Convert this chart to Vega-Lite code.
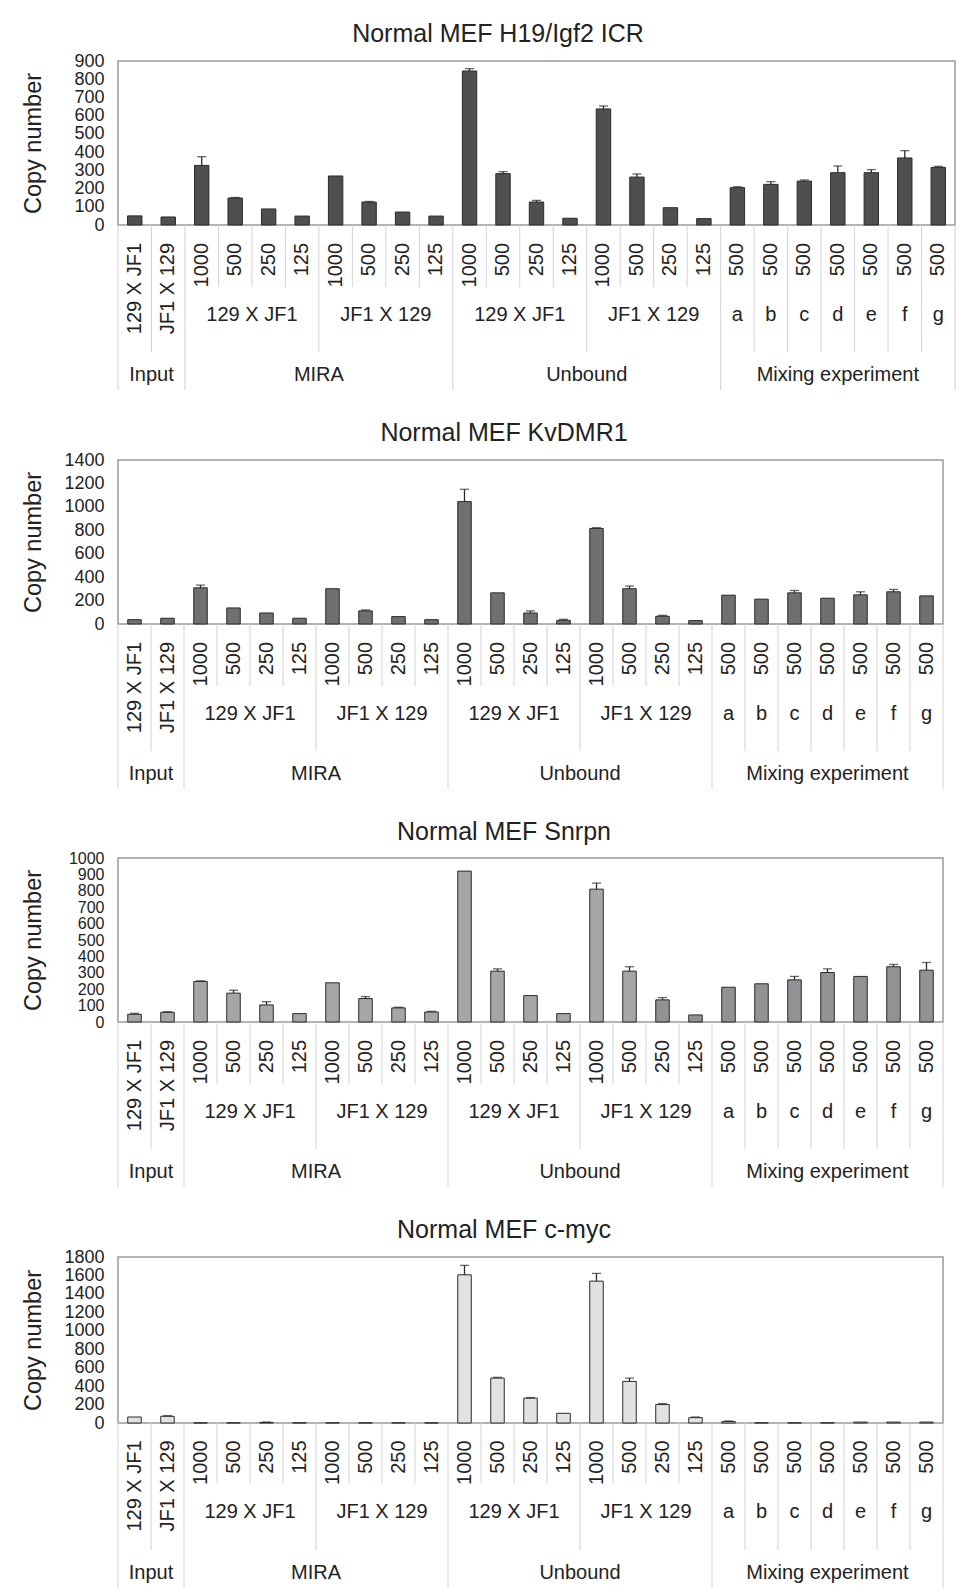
{
  "$schema": "https://vega.github.io/schema/vega-lite/v6.json",
  "background": "white",
  "padding": {"left": 20, "top": 21, "right": 0, "bottom": 0},
  "spacing": 29,
  "datasets": {
    "bars": [
      {"p": "H19", "n": 1, "v": 50}, {"p": "H19", "n": 2, "v": 44},
      {"p": "H19", "n": 3, "v": 327, "hi": 375}, {"p": "H19", "n": 4, "v": 148, "hi": 151},
      {"p": "H19", "n": 5, "v": 88}, {"p": "H19", "n": 6, "v": 49},
      {"p": "H19", "n": 7, "v": 269}, {"p": "H19", "n": 8, "v": 126, "hi": 129},
      {"p": "H19", "n": 9, "v": 71}, {"p": "H19", "n": 10, "v": 49},
      {"p": "H19", "n": 11, "v": 845, "hi": 858}, {"p": "H19", "n": 12, "v": 282, "hi": 293},
      {"p": "H19", "n": 13, "v": 126, "hi": 135}, {"p": "H19", "n": 14, "v": 37},
      {"p": "H19", "n": 15, "v": 637, "hi": 653}, {"p": "H19", "n": 16, "v": 263, "hi": 280},
      {"p": "H19", "n": 17, "v": 95}, {"p": "H19", "n": 18, "v": 35},
      {"p": "H19", "n": 19, "v": 205, "hi": 210}, {"p": "H19", "n": 20, "v": 223, "hi": 238},
      {"p": "H19", "n": 21, "v": 241, "hi": 247}, {"p": "H19", "n": 22, "v": 287, "hi": 324},
      {"p": "H19", "n": 23, "v": 287, "hi": 304}, {"p": "H19", "n": 24, "v": 368, "hi": 408},
      {"p": "H19", "n": 25, "v": 316, "hi": 322},

      {"p": "Kv", "n": 1, "v": 37}, {"p": "Kv", "n": 2, "v": 49},
      {"p": "Kv", "n": 3, "v": 309, "hi": 332}, {"p": "Kv", "n": 4, "v": 137},
      {"p": "Kv", "n": 5, "v": 94}, {"p": "Kv", "n": 6, "v": 49},
      {"p": "Kv", "n": 7, "v": 301}, {"p": "Kv", "n": 8, "v": 112, "hi": 120},
      {"p": "Kv", "n": 9, "v": 63}, {"p": "Kv", "n": 10, "v": 37},
      {"p": "Kv", "n": 11, "v": 1045, "hi": 1150}, {"p": "Kv", "n": 12, "v": 266},
      {"p": "Kv", "n": 13, "v": 94, "hi": 112}, {"p": "Kv", "n": 14, "v": 31, "hi": 40},
      {"p": "Kv", "n": 15, "v": 816, "hi": 822}, {"p": "Kv", "n": 16, "v": 301, "hi": 324},
      {"p": "Kv", "n": 17, "v": 66, "hi": 74}, {"p": "Kv", "n": 18, "v": 29},
      {"p": "Kv", "n": 19, "v": 246}, {"p": "Kv", "n": 20, "v": 212},
      {"p": "Kv", "n": 21, "v": 266, "hi": 286}, {"p": "Kv", "n": 22, "v": 220},
      {"p": "Kv", "n": 23, "v": 249, "hi": 275}, {"p": "Kv", "n": 24, "v": 275, "hi": 295},
      {"p": "Kv", "n": 25, "v": 240},

      {"p": "Sn", "n": 1, "v": 47, "hi": 53}, {"p": "Sn", "n": 2, "v": 59, "hi": 63},
      {"p": "Sn", "n": 3, "v": 247, "hi": 251}, {"p": "Sn", "n": 4, "v": 176, "hi": 194},
      {"p": "Sn", "n": 5, "v": 104, "hi": 124}, {"p": "Sn", "n": 6, "v": 51},
      {"p": "Sn", "n": 7, "v": 239}, {"p": "Sn", "n": 8, "v": 143, "hi": 155},
      {"p": "Sn", "n": 9, "v": 86, "hi": 90}, {"p": "Sn", "n": 10, "v": 61, "hi": 65},
      {"p": "Sn", "n": 11, "v": 920}, {"p": "Sn", "n": 12, "v": 310, "hi": 324},
      {"p": "Sn", "n": 13, "v": 161}, {"p": "Sn", "n": 14, "v": 51},
      {"p": "Sn", "n": 15, "v": 810, "hi": 847}, {"p": "Sn", "n": 16, "v": 310, "hi": 337},
      {"p": "Sn", "n": 17, "v": 135, "hi": 149}, {"p": "Sn", "n": 18, "v": 43},
      {"p": "Sn", "n": 19, "v": 212}, {"p": "Sn", "n": 20, "v": 233},
      {"p": "Sn", "n": 21, "v": 257, "hi": 278}, {"p": "Sn", "n": 22, "v": 302, "hi": 324},
      {"p": "Sn", "n": 23, "v": 278}, {"p": "Sn", "n": 24, "v": 337, "hi": 351},
      {"p": "Sn", "n": 25, "v": 316, "hi": 363},

      {"p": "My", "n": 1, "v": 65}, {"p": "My", "n": 2, "v": 73, "hi": 80},
      {"p": "My", "n": 3, "v": 2}, {"p": "My", "n": 4, "v": 2},
      {"p": "My", "n": 5, "v": 6, "hi": 10}, {"p": "My", "n": 6, "v": 2},
      {"p": "My", "n": 7, "v": 2}, {"p": "My", "n": 8, "v": 2},
      {"p": "My", "n": 9, "v": 2}, {"p": "My", "n": 10, "v": 2},
      {"p": "My", "n": 11, "v": 1607, "hi": 1709}, {"p": "My", "n": 12, "v": 487, "hi": 495},
      {"p": "My", "n": 13, "v": 269, "hi": 276}, {"p": "My", "n": 14, "v": 105},
      {"p": "My", "n": 15, "v": 1538, "hi": 1622}, {"p": "My", "n": 16, "v": 451, "hi": 487},
      {"p": "My", "n": 17, "v": 200, "hi": 211}, {"p": "My", "n": 18, "v": 58, "hi": 65},
      {"p": "My", "n": 19, "v": 15, "hi": 22}, {"p": "My", "n": 20, "v": 2},
      {"p": "My", "n": 21, "v": 2}, {"p": "My", "n": 22, "v": 2},
      {"p": "My", "n": 23, "v": 10}, {"p": "My", "n": 24, "v": 10},
      {"p": "My", "n": 25, "v": 10}
    ],
    "cats": [
      {"n": 1, "l1": "129 X JF1", "sep": 3}, {"n": 2, "l1": "JF1 X 129", "sep": 2},
      {"n": 3, "l1": "1000", "sep": 3}, {"n": 4, "l1": "500", "sep": 1},
      {"n": 5, "l1": "250", "sep": 1}, {"n": 6, "l1": "125", "sep": 1},
      {"n": 7, "l1": "1000", "sep": 2}, {"n": 8, "l1": "500", "sep": 1},
      {"n": 9, "l1": "250", "sep": 1}, {"n": 10, "l1": "125", "sep": 1},
      {"n": 11, "l1": "1000", "sep": 3}, {"n": 12, "l1": "500", "sep": 1},
      {"n": 13, "l1": "250", "sep": 1}, {"n": 14, "l1": "125", "sep": 1},
      {"n": 15, "l1": "1000", "sep": 2}, {"n": 16, "l1": "500", "sep": 1},
      {"n": 17, "l1": "250", "sep": 1}, {"n": 18, "l1": "125", "sep": 1},
      {"n": 19, "l1": "500", "sep": 3}, {"n": 20, "l1": "500", "sep": 2},
      {"n": 21, "l1": "500", "sep": 2}, {"n": 22, "l1": "500", "sep": 2},
      {"n": 23, "l1": "500", "sep": 2}, {"n": 24, "l1": "500", "sep": 2},
      {"n": 25, "l1": "500", "sep": 2, "rsep": 3}
    ],
    "groups": [
      {"t": "129 X JF1", "tier": 2, "span": 4, "n": 5},
      {"t": "JF1 X 129", "tier": 2, "span": 4, "n": 9},
      {"t": "129 X JF1", "tier": 2, "span": 4, "n": 13},
      {"t": "JF1 X 129", "tier": 2, "span": 4, "n": 17},
      {"t": "a", "tier": 2, "span": 1, "n": 19},
      {"t": "b", "tier": 2, "span": 1, "n": 20},
      {"t": "c", "tier": 2, "span": 1, "n": 21},
      {"t": "d", "tier": 2, "span": 1, "n": 22},
      {"t": "e", "tier": 2, "span": 1, "n": 23},
      {"t": "f", "tier": 2, "span": 1, "n": 24},
      {"t": "g", "tier": 2, "span": 1, "n": 25},
      {"t": "Input", "tier": 3, "span": 2, "n": 2},
      {"t": "MIRA", "tier": 3, "span": 8, "n": 7},
      {"t": "Unbound", "tier": 3, "span": 8, "n": 15},
      {"t": "Mixing experiment", "tier": 3, "span": 7, "n": 22}
    ]
  },
  "vconcat": [
    {
      "spacing": 0, "bounds": "flush",
      "vconcat": [
        {
          "width": 837, "height": 164,
          "title": {"text": "Normal MEF H19/Igf2 ICR", "dx": 10},
          "data": {"name": "bars"},
          "transform": [{"filter": "datum.p == 'H19'"}],
          "layer": [
            {"mark": {"type": "bar", "width": {"band": 0.43}, "fill": "#4f4f51", "stroke": "#2a2a2a", "strokeWidth": 1},
             "encoding": {
               "x": {"field": "n", "type": "ordinal", "axis": null, "scale": {"paddingInner": 0, "paddingOuter": 0}},
               "y": {"field": "v", "type": "quantitative", "title": "Copy number", "scale": {"domain": [0, 900], "nice": false}, "axis": {"values": [0, 100, 200, 300, 400, 500, 600, 700, 800, 900], "format": "d"}}}},
            {"transform": [{"filter": "datum.hi != null"}], "mark": {"type": "rule", "stroke": "#2a2a2a", "strokeWidth": 1.3},
             "encoding": {"x": {"field": "n", "type": "ordinal"}, "y": {"field": "v", "type": "quantitative", "title": "Copy number", "axis": {"values": [0, 100, 200, 300, 400, 500, 600, 700, 800, 900], "format": "d"}}, "y2": {"field": "hi"}}},
            {"transform": [{"filter": "datum.hi != null"}], "mark": {"type": "tick", "color": "#2a2a2a", "size": 9, "thickness": 1.3},
             "encoding": {"x": {"field": "n", "type": "ordinal"}, "y": {"field": "hi", "type": "quantitative", "title": "Copy number", "axis": {"values": [0, 100, 200, 300, 400, 500, 600, 700, 800, 900], "format": "d"}}}}
          ]
        },
        {
          "width": 837, "height": 165, "view": {"stroke": null},
          "layer": [
            {"data": {"name": "cats"}, "mark": {"type": "rule", "stroke": "#d2d2d2", "strokeWidth": 1},
             "encoding": {"x": {"field": "n", "type": "ordinal", "bandPosition": 0, "axis": null, "scale": {"paddingInner": 0, "paddingOuter": 0}},
               "y": {"field": "sep", "type": "quantitative", "axis": null, "scale": {"domain": [0, 1, 2, 3], "range": [0, 62, 127, 165], "nice": false, "zero": false}},
               "y2": {"datum": 0}}},
            {"data": {"name": "cats"}, "transform": [{"filter": "datum.rsep != null"}], "mark": {"type": "rule", "stroke": "#d2d2d2", "strokeWidth": 1},
             "encoding": {"x": {"field": "n", "type": "ordinal", "bandPosition": 1}, "y": {"field": "rsep", "type": "quantitative"}, "y2": {"datum": 0}}},
            {"data": {"name": "cats"}, "mark": {"type": "text", "angle": 270, "align": "right", "baseline": "middle", "fontSize": 20, "color": "#222222"},
             "encoding": {"x": {"field": "n", "type": "ordinal"}, "y": {"datum": 0.29, "type": "quantitative"}, "text": {"field": "l1"}}},
            {"data": {"name": "groups"}, "transform": [{"filter": "datum.tier == 2 && datum.span % 2 == 0"}], "mark": {"type": "text", "baseline": "middle", "fontSize": 20, "color": "#222222"},
             "encoding": {"x": {"field": "n", "type": "ordinal", "bandPosition": 0}, "y": {"datum": 1.43, "type": "quantitative"}, "text": {"field": "t"}}},
            {"data": {"name": "groups"}, "transform": [{"filter": "datum.tier == 2 && datum.span % 2 == 1"}], "mark": {"type": "text", "baseline": "middle", "fontSize": 20, "color": "#222222"},
             "encoding": {"x": {"field": "n", "type": "ordinal"}, "y": {"datum": 1.43, "type": "quantitative"}, "text": {"field": "t"}}},
            {"data": {"name": "groups"}, "transform": [{"filter": "datum.tier == 3 && datum.span % 2 == 0"}], "mark": {"type": "text", "baseline": "middle", "fontSize": 20, "color": "#222222"},
             "encoding": {"x": {"field": "n", "type": "ordinal", "bandPosition": 0}, "y": {"datum": 2.6, "type": "quantitative"}, "text": {"field": "t"}}},
            {"data": {"name": "groups"}, "transform": [{"filter": "datum.tier == 3 && datum.span % 2 == 1"}], "mark": {"type": "text", "baseline": "middle", "fontSize": 20, "color": "#222222"},
             "encoding": {"x": {"field": "n", "type": "ordinal"}, "y": {"datum": 2.6, "type": "quantitative"}, "text": {"field": "t"}}}
          ]
        }
      ]
    },
    {
      "spacing": 0, "bounds": "flush",
      "vconcat": [
        {
          "width": 825, "height": 164,
          "title": {"text": "Normal MEF KvDMR1", "dx": 22},
          "data": {"name": "bars"},
          "transform": [{"filter": "datum.p == 'Kv'"}],
          "layer": [
            {"mark": {"type": "bar", "width": {"band": 0.41}, "fill": "#707073", "stroke": "#2a2a2a", "strokeWidth": 1},
             "encoding": {
               "x": {"field": "n", "type": "ordinal", "axis": null, "scale": {"paddingInner": 0, "paddingOuter": 0}},
               "y": {"field": "v", "type": "quantitative", "title": "Copy number", "scale": {"domain": [0, 1400], "nice": false}, "axis": {"values": [0, 200, 400, 600, 800, 1000, 1200, 1400], "format": "d"}}}},
            {"transform": [{"filter": "datum.hi != null"}], "mark": {"type": "rule", "stroke": "#2a2a2a", "strokeWidth": 1.3},
             "encoding": {"x": {"field": "n", "type": "ordinal"}, "y": {"field": "v", "type": "quantitative", "title": "Copy number", "axis": {"values": [0, 200, 400, 600, 800, 1000, 1200, 1400], "format": "d"}}, "y2": {"field": "hi"}}},
            {"transform": [{"filter": "datum.hi != null"}], "mark": {"type": "tick", "color": "#2a2a2a", "size": 9, "thickness": 1.3},
             "encoding": {"x": {"field": "n", "type": "ordinal"}, "y": {"field": "hi", "type": "quantitative", "title": "Copy number", "axis": {"values": [0, 200, 400, 600, 800, 1000, 1200, 1400], "format": "d"}}}}
          ]
        },
        {
          "width": 825, "height": 165, "view": {"stroke": null},
          "layer": [
            {"data": {"name": "cats"}, "mark": {"type": "rule", "stroke": "#d2d2d2", "strokeWidth": 1},
             "encoding": {"x": {"field": "n", "type": "ordinal", "bandPosition": 0, "axis": null, "scale": {"paddingInner": 0, "paddingOuter": 0}},
               "y": {"field": "sep", "type": "quantitative", "axis": null, "scale": {"domain": [0, 1, 2, 3], "range": [0, 62, 127, 165], "nice": false, "zero": false}},
               "y2": {"datum": 0}}},
            {"data": {"name": "cats"}, "transform": [{"filter": "datum.rsep != null"}], "mark": {"type": "rule", "stroke": "#d2d2d2", "strokeWidth": 1},
             "encoding": {"x": {"field": "n", "type": "ordinal", "bandPosition": 1}, "y": {"field": "rsep", "type": "quantitative"}, "y2": {"datum": 0}}},
            {"data": {"name": "cats"}, "mark": {"type": "text", "angle": 270, "align": "right", "baseline": "middle", "fontSize": 20, "color": "#222222"},
             "encoding": {"x": {"field": "n", "type": "ordinal"}, "y": {"datum": 0.29, "type": "quantitative"}, "text": {"field": "l1"}}},
            {"data": {"name": "groups"}, "transform": [{"filter": "datum.tier == 2 && datum.span % 2 == 0"}], "mark": {"type": "text", "baseline": "middle", "fontSize": 20, "color": "#222222"},
             "encoding": {"x": {"field": "n", "type": "ordinal", "bandPosition": 0}, "y": {"datum": 1.43, "type": "quantitative"}, "text": {"field": "t"}}},
            {"data": {"name": "groups"}, "transform": [{"filter": "datum.tier == 2 && datum.span % 2 == 1"}], "mark": {"type": "text", "baseline": "middle", "fontSize": 20, "color": "#222222"},
             "encoding": {"x": {"field": "n", "type": "ordinal"}, "y": {"datum": 1.43, "type": "quantitative"}, "text": {"field": "t"}}},
            {"data": {"name": "groups"}, "transform": [{"filter": "datum.tier == 3 && datum.span % 2 == 0"}], "mark": {"type": "text", "baseline": "middle", "fontSize": 20, "color": "#222222"},
             "encoding": {"x": {"field": "n", "type": "ordinal", "bandPosition": 0}, "y": {"datum": 2.6, "type": "quantitative"}, "text": {"field": "t"}}},
            {"data": {"name": "groups"}, "transform": [{"filter": "datum.tier == 3 && datum.span % 2 == 1"}], "mark": {"type": "text", "baseline": "middle", "fontSize": 20, "color": "#222222"},
             "encoding": {"x": {"field": "n", "type": "ordinal"}, "y": {"datum": 2.6, "type": "quantitative"}, "text": {"field": "t"}}}
          ]
        }
      ]
    },
    {
      "spacing": 0, "bounds": "flush",
      "vconcat": [
        {
          "width": 825, "height": 164,
          "title": {"text": "Normal MEF Snrpn", "dx": 22},
          "data": {"name": "bars"},
          "transform": [{"filter": "datum.p == 'Sn'"}],
          "layer": [
            {"mark": {"type": "bar", "width": {"band": 0.41}, "stroke": "#2a2a2a", "strokeWidth": 1},
             "encoding": {
               "x": {"field": "n", "type": "ordinal", "axis": null, "scale": {"paddingInner": 0, "paddingOuter": 0}},
               "fill": {"condition": {"test": "datum.n >= 17", "value": "#929296"}, "value": "#a6a6a9"},
               "y": {"field": "v", "type": "quantitative", "title": "Copy number", "scale": {"domain": [0, 1000], "nice": false}, "axis": {"values": [0, 100, 200, 300, 400, 500, 600, 700, 800, 900, 1000], "format": "d", "labelFontSize": 16}}}},
            {"transform": [{"filter": "datum.hi != null"}], "mark": {"type": "rule", "stroke": "#2a2a2a", "strokeWidth": 1.3},
             "encoding": {"x": {"field": "n", "type": "ordinal"}, "y": {"field": "v", "type": "quantitative", "title": "Copy number", "axis": {"values": [0, 100, 200, 300, 400, 500, 600, 700, 800, 900, 1000], "format": "d", "labelFontSize": 16}}, "y2": {"field": "hi"}}},
            {"transform": [{"filter": "datum.hi != null"}], "mark": {"type": "tick", "color": "#2a2a2a", "size": 9, "thickness": 1.3},
             "encoding": {"x": {"field": "n", "type": "ordinal"}, "y": {"field": "hi", "type": "quantitative", "title": "Copy number", "axis": {"values": [0, 100, 200, 300, 400, 500, 600, 700, 800, 900, 1000], "format": "d", "labelFontSize": 16}}}}
          ]
        },
        {
          "width": 825, "height": 165, "view": {"stroke": null},
          "layer": [
            {"data": {"name": "cats"}, "mark": {"type": "rule", "stroke": "#d2d2d2", "strokeWidth": 1},
             "encoding": {"x": {"field": "n", "type": "ordinal", "bandPosition": 0, "axis": null, "scale": {"paddingInner": 0, "paddingOuter": 0}},
               "y": {"field": "sep", "type": "quantitative", "axis": null, "scale": {"domain": [0, 1, 2, 3], "range": [0, 62, 127, 165], "nice": false, "zero": false}},
               "y2": {"datum": 0}}},
            {"data": {"name": "cats"}, "transform": [{"filter": "datum.rsep != null"}], "mark": {"type": "rule", "stroke": "#d2d2d2", "strokeWidth": 1},
             "encoding": {"x": {"field": "n", "type": "ordinal", "bandPosition": 1}, "y": {"field": "rsep", "type": "quantitative"}, "y2": {"datum": 0}}},
            {"data": {"name": "cats"}, "mark": {"type": "text", "angle": 270, "align": "right", "baseline": "middle", "fontSize": 20, "color": "#222222"},
             "encoding": {"x": {"field": "n", "type": "ordinal"}, "y": {"datum": 0.29, "type": "quantitative"}, "text": {"field": "l1"}}},
            {"data": {"name": "groups"}, "transform": [{"filter": "datum.tier == 2 && datum.span % 2 == 0"}], "mark": {"type": "text", "baseline": "middle", "fontSize": 20, "color": "#222222"},
             "encoding": {"x": {"field": "n", "type": "ordinal", "bandPosition": 0}, "y": {"datum": 1.43, "type": "quantitative"}, "text": {"field": "t"}}},
            {"data": {"name": "groups"}, "transform": [{"filter": "datum.tier == 2 && datum.span % 2 == 1"}], "mark": {"type": "text", "baseline": "middle", "fontSize": 20, "color": "#222222"},
             "encoding": {"x": {"field": "n", "type": "ordinal"}, "y": {"datum": 1.43, "type": "quantitative"}, "text": {"field": "t"}}},
            {"data": {"name": "groups"}, "transform": [{"filter": "datum.tier == 3 && datum.span % 2 == 0"}], "mark": {"type": "text", "baseline": "middle", "fontSize": 20, "color": "#222222"},
             "encoding": {"x": {"field": "n", "type": "ordinal", "bandPosition": 0}, "y": {"datum": 2.6, "type": "quantitative"}, "text": {"field": "t"}}},
            {"data": {"name": "groups"}, "transform": [{"filter": "datum.tier == 3 && datum.span % 2 == 1"}], "mark": {"type": "text", "baseline": "middle", "fontSize": 20, "color": "#222222"},
             "encoding": {"x": {"field": "n", "type": "ordinal"}, "y": {"datum": 2.6, "type": "quantitative"}, "text": {"field": "t"}}}
          ]
        }
      ]
    },
    {
      "spacing": 0, "bounds": "flush",
      "vconcat": [
        {
          "width": 825, "height": 166,
          "title": {"text": "Normal MEF c-myc", "dx": 22},
          "data": {"name": "bars"},
          "transform": [{"filter": "datum.p == 'My'"}],
          "layer": [
            {"mark": {"type": "bar", "width": {"band": 0.41}, "fill": "#e2e2e2", "stroke": "#2a2a2a", "strokeWidth": 1},
             "encoding": {
               "x": {"field": "n", "type": "ordinal", "axis": null, "scale": {"paddingInner": 0, "paddingOuter": 0}},
               "y": {"field": "v", "type": "quantitative", "title": "Copy number", "scale": {"domain": [0, 1800], "nice": false}, "axis": {"values": [0, 200, 400, 600, 800, 1000, 1200, 1400, 1600, 1800], "format": "d"}}}},
            {"transform": [{"filter": "datum.hi != null"}], "mark": {"type": "rule", "stroke": "#2a2a2a", "strokeWidth": 1.3},
             "encoding": {"x": {"field": "n", "type": "ordinal"}, "y": {"field": "v", "type": "quantitative", "title": "Copy number", "axis": {"values": [0, 200, 400, 600, 800, 1000, 1200, 1400, 1600, 1800], "format": "d"}}, "y2": {"field": "hi"}}},
            {"transform": [{"filter": "datum.hi != null"}], "mark": {"type": "tick", "color": "#2a2a2a", "size": 9, "thickness": 1.3},
             "encoding": {"x": {"field": "n", "type": "ordinal"}, "y": {"field": "hi", "type": "quantitative", "title": "Copy number", "axis": {"values": [0, 200, 400, 600, 800, 1000, 1200, 1400, 1600, 1800], "format": "d"}}}}
          ]
        },
        {
          "width": 825, "height": 165, "view": {"stroke": null},
          "layer": [
            {"data": {"name": "cats"}, "mark": {"type": "rule", "stroke": "#d2d2d2", "strokeWidth": 1},
             "encoding": {"x": {"field": "n", "type": "ordinal", "bandPosition": 0, "axis": null, "scale": {"paddingInner": 0, "paddingOuter": 0}},
               "y": {"field": "sep", "type": "quantitative", "axis": null, "scale": {"domain": [0, 1, 2, 3], "range": [0, 60, 127, 165], "nice": false, "zero": false}},
               "y2": {"datum": 0}}},
            {"data": {"name": "cats"}, "transform": [{"filter": "datum.rsep != null"}], "mark": {"type": "rule", "stroke": "#d2d2d2", "strokeWidth": 1},
             "encoding": {"x": {"field": "n", "type": "ordinal", "bandPosition": 1}, "y": {"field": "rsep", "type": "quantitative"}, "y2": {"datum": 0}}},
            {"data": {"name": "cats"}, "mark": {"type": "text", "angle": 270, "align": "right", "baseline": "middle", "fontSize": 20, "color": "#222222"},
             "encoding": {"x": {"field": "n", "type": "ordinal"}, "y": {"datum": 0.29, "type": "quantitative"}, "text": {"field": "l1"}}},
            {"data": {"name": "groups"}, "transform": [{"filter": "datum.tier == 2 && datum.span % 2 == 0"}], "mark": {"type": "text", "baseline": "middle", "fontSize": 20, "color": "#222222"},
             "encoding": {"x": {"field": "n", "type": "ordinal", "bandPosition": 0}, "y": {"datum": 1.43, "type": "quantitative"}, "text": {"field": "t"}}},
            {"data": {"name": "groups"}, "transform": [{"filter": "datum.tier == 2 && datum.span % 2 == 1"}], "mark": {"type": "text", "baseline": "middle", "fontSize": 20, "color": "#222222"},
             "encoding": {"x": {"field": "n", "type": "ordinal"}, "y": {"datum": 1.43, "type": "quantitative"}, "text": {"field": "t"}}},
            {"data": {"name": "groups"}, "transform": [{"filter": "datum.tier == 3 && datum.span % 2 == 0"}], "mark": {"type": "text", "baseline": "middle", "fontSize": 20, "color": "#222222"},
             "encoding": {"x": {"field": "n", "type": "ordinal", "bandPosition": 0}, "y": {"datum": 2.6, "type": "quantitative"}, "text": {"field": "t"}}},
            {"data": {"name": "groups"}, "transform": [{"filter": "datum.tier == 3 && datum.span % 2 == 1"}], "mark": {"type": "text", "baseline": "middle", "fontSize": 20, "color": "#222222"},
             "encoding": {"x": {"field": "n", "type": "ordinal"}, "y": {"datum": 2.6, "type": "quantitative"}, "text": {"field": "t"}}}
          ]
        }
      ]
    }
  ],
  "config": {
    "font": "Liberation Sans",
    "view": {"stroke": "#9a9a9a", "strokeWidth": 1.5},
    "title": {"fontSize": 25, "fontWeight": "normal", "color": "#222222", "anchor": "middle", "frame": "bounds", "offset": 5, "baseline": "alphabetic"},
    "axisY": {"ticks": false, "domain": false, "grid": false, "labelPadding": 14, "labelFontSize": 18, "labelColor": "#222222", "labelOverlap": false, "labelFlush": false, "labelBound": false, "titleFontSize": 23.5, "titleFontWeight": "normal", "titleColor": "#222222", "titleX": -73}
  }
}
